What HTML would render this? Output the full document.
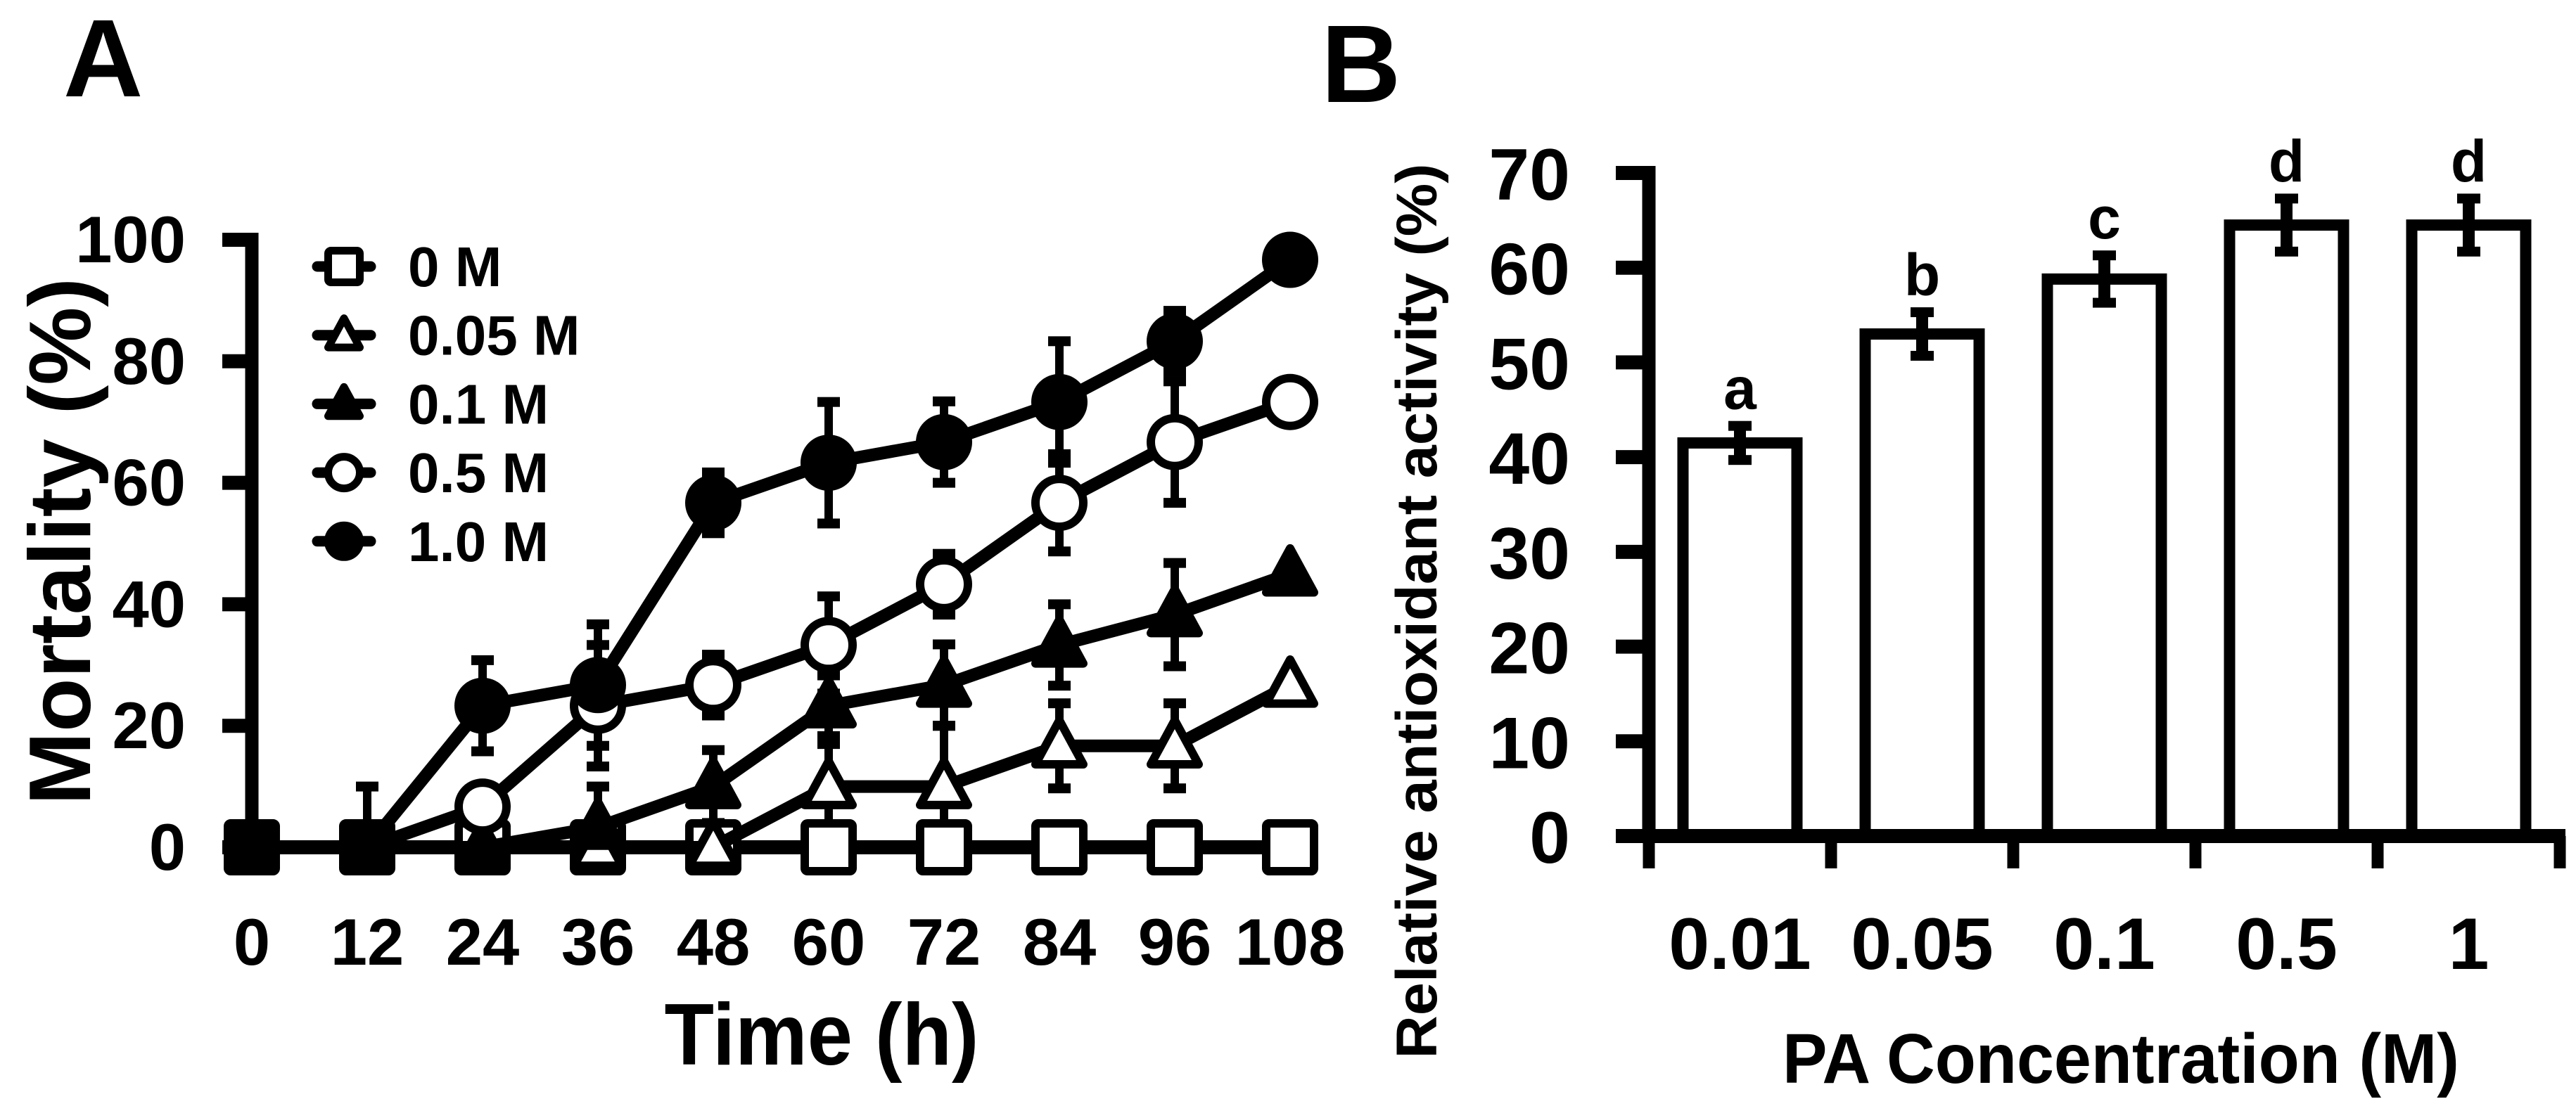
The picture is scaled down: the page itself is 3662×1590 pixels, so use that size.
<!DOCTYPE html>
<html>
<head>
<meta charset="utf-8">
<style>
html,body{margin:0;padding:0;background:#fff;}
svg{display:block;}
text{font-family:"Liberation Sans", Arial, sans-serif;fill:#000;font-weight:bold;}
</style>
</head>
<body>
<svg id="fig" width="3662" height="1590" viewBox="0 0 3662 1590" xmlns="http://www.w3.org/2000/svg">
  <rect width="3662" height="1590" fill="#fff"/>
  <text x="90" y="137" font-size="157">A</text>
  <text x="1878" y="145" font-size="157">B</text>
  <g id="panelA"></g>
  <g id="panelB"></g>
</svg>
<script>
// ---------- Panel A data ----------
const timeCategories = [0, 12, 24, 36, 48, 60, 72, 84, 96, 108];
const yTicksA = [0, 20, 40, 60, 80, 100];
const seriesNames = ["0 M", "0.05 M", "0.1 M", "0.5 M", "1.0 M"];
const seriesShapes = ["square", "triangle", "triangle", "circle", "circle"];
const seriesFilled = [false, false, true, false, true];
const values0M   = [0, 0, 0, 0, 0, 0, 0, 0, 0, 0];
const err0M      = [0, 0, 0, 0, 0, 0, 0, 0, 0, 0];
const values005M = [0, 0, 0, 0, 0, 10, 10, 16.7, 16.7, 26.7];
const err005M    = [0, 0, 0, 0, 0, 7, 10, 7, 7, 0];
const values01M  = [0, 0, 0, 3.3, 10, 23.3, 26.7, 33.3, 38.3, 45];
const err01M     = [0, 0, 0, 6.7, 6, 5, 6.7, 6.7, 8.5, 0];
const values05M  = [0, 0, 6.7, 23.3, 26.7, 33.3, 43.3, 56.7, 66.7, 73.3];
const err05M     = [0, 0, 3.3, 10, 5, 8, 5, 8, 10, 0];
const values1M   = [0, 0, 23.3, 26.7, 56.7, 63.3, 66.7, 73.3, 83.3, 96.7];
const err1M      = [0, 10, 7.5, 10, 5, 10, 6.7, 10, 5, 0];

// ---------- Panel B data ----------
const concCategories = ["0.01", "0.05", "0.1", "0.5", "1"];
const activityValues = [41.5, 53, 58.8, 64.5, 64.5];
const activityErrors = [1.8, 2.3, 2.5, 2.8, 2.8];
const sigLetters = ["a", "b", "c", "d", "d"];
const yTicksB = [0, 10, 20, 30, 40, 50, 60, 70];

const NS = "http://www.w3.org/2000/svg";
function mk(parent, tag, attrs, txt) {
  const e = document.createElementNS(NS, tag);
  for (const k in attrs) e.setAttribute(k, attrs[k]);
  if (txt !== undefined) e.textContent = txt;
  parent.appendChild(e);
  return e;
}

// ================= Panel A =================
const gA = document.getElementById("panelA");
const ax0 = 358, axStep = 164, ay0 = 1205, ayTop = 341;
function xA(i) { return ax0 + i * axStep; }
function yA(v) { return ay0 - (v / 100) * (ay0 - ayTop); }

function drawMarker(parent, shape, filled, cx, cy, size, sw) {
  const fill = filled ? "#000" : "#fff";
  let el;
  if (shape === "square") {
    const s = size - sw;
    el = mk(parent, "rect", {x: cx - s / 2, y: cy - s / 2, width: s, height: s, rx: 4, fill: fill, stroke: "#000", "stroke-width": sw});
  } else if (shape === "circle") {
    el = mk(parent, "circle", {cx: cx, cy: cy, r: (size - sw) / 2, fill: fill, stroke: "#000", "stroke-width": sw});
  } else {
    const w = size - sw, h = (size - sw) * 0.92;
    const pts = [[cx, cy - h * 0.58], [cx - w / 2, cy + h * 0.42], [cx + w / 2, cy + h * 0.42]].map(p => p.join(",")).join(" ");
    el = mk(parent, "polygon", {points: pts, fill: fill, stroke: "#000", "stroke-width": sw, "stroke-linejoin": "round"});
  }
  return el;
}

const yAxisA = mk(gA, "line", {x1: ax0, y1: ayTop - 10, x2: ax0, y2: ay0, stroke: "#000", "stroke-width": 19});


const xAxisA = mk(gA, "line", {x1: ax0, y1: ay0, x2: xA(9), y2: ay0, stroke: "#000", "stroke-width": 20});



yTicksA.forEach(function (t) {
  const tk = mk(gA, "line", {x1: 316, y1: yA(t), x2: ax0, y2: yA(t), stroke: "#000", "stroke-width": 20});
  
  
  const lb = mk(gA, "text", {x: 264, y: yA(t) + 32, "font-size": 94, "text-anchor": "end"}, String(t));
  
  
});
timeCategories.forEach(function (t, i) {
  const lb = mk(gA, "text", {x: xA(i), y: 1372, "font-size": 94, "text-anchor": "middle"}, String(t));
  
  
});
const xTitleA = mk(gA, "text", {x: 1168, y: 1514, "font-size": 124, "text-anchor": "middle", textLength: 447, lengthAdjust: "spacingAndGlyphs"}, "Time (h)");


const yTitleA = mk(gA, "text", {x: 0, y: 0, "font-size": 124, "text-anchor": "middle", transform: "translate(128,770) rotate(-90)", textLength: 750, lengthAdjust: "spacingAndGlyphs"}, "Mortality (%)");



const allValues = [values0M, values005M, values01M, values05M, values1M];
const allErrors = [err0M, err005M, err01M, err05M, err1M];

allValues.forEach(function (vals, s) {
  const errs = allErrors[s];
  vals.forEach(function (v, i) {
    const e = errs[i];
    if (e <= 0) return;
    const x = xA(i);
    const eg = mk(gA, "g", {});
    
    
    mk(eg, "line", {x1: x, y1: yA(v + e), x2: x, y2: yA(Math.max(0, v - e)), stroke: "#000", "stroke-width": 12});
    mk(eg, "rect", {x: x - 16, y: yA(v + e) - 7, width: 32, height: 14, fill: "#000"});
    if (v - e > 0) mk(eg, "rect", {x: x - 16, y: yA(v - e) - 7, width: 32, height: 14, fill: "#000"});
  });
});
allValues.forEach(function (vals, s) {
  const sg = mk(gA, "g", {});
  
  
  const pts = vals.map(function (v, i) { return xA(i) + "," + yA(v); }).join(" ");
  const pl = mk(sg, "polyline", {points: pts, fill: "none", stroke: "#000", "stroke-width": 18, "stroke-linejoin": "round"});
  
  
  vals.forEach(function (v, i) {
    const m = drawMarker(sg, seriesShapes[s], seriesFilled[s], xA(i), yA(v), 80, 12);
    
    
  });
});
const legend = mk(gA, "g", {});


seriesNames.forEach(function (n, s) {
  const cy = 379 + s * 97.7;
  const eg = mk(legend, "g", {});
  
  
  mk(eg, "line", {x1: 451, y1: cy, x2: 527, y2: cy, stroke: "#000", "stroke-width": 15, "stroke-linecap": "round"});
  drawMarker(eg, seriesShapes[s], seriesFilled[s], 489, cy, 56, 11);
  mk(eg, "text", {x: 580, y: cy + 28, "font-size": 80}, n);
});

// ================= Panel B =================
const gB = document.getElementById("panelB");
const bx0 = 2344, bStep = 259, by0 = 1189, byTop = 246;
function yB(v) { return by0 - (v / 70) * (by0 - byTop); }
function xB(i) { return bx0 + bStep * (i + 0.5); }

yTicksB.forEach(function (t) {
  const tk = mk(gB, "line", {x1: 2297, y1: yB(t), x2: bx0, y2: yB(t), stroke: "#000", "stroke-width": 20});
  
  
  const lb = mk(gB, "text", {x: 2232, y: yB(t) + 38, "font-size": 104, "text-anchor": "end"}, String(t));
  
  
});
for (let k = 0; k <= concCategories.length; k++) {
  const tk = mk(gB, "line", {x1: bx0 + k * bStep, y1: by0, x2: bx0 + k * bStep, y2: 1235, stroke: "#000", "stroke-width": 17});
  
  
}
concCategories.forEach(function (c, i) {
  const v = activityValues[i], e = activityErrors[i];
  const cx = xB(i);
  const bg = mk(gB, "g", {});
  
  
  const bw = 178 - 16;
  const bar = mk(bg, "rect", {x: cx - bw / 2, y: yB(v), width: bw, height: by0 - yB(v), fill: "#fff", stroke: "#000", "stroke-width": 16});
  
  
  const eb = mk(bg, "g", {});
  
  
  mk(eb, "line", {x1: cx, y1: yB(v + e), x2: cx, y2: yB(v - e), stroke: "#000", "stroke-width": 17});
  mk(eb, "rect", {x: cx - 16.5, y: yB(v + e) - 7, width: 33, height: 14, fill: "#000"});
  mk(eb, "rect", {x: cx - 16.5, y: yB(v - e) - 7, width: 33, height: 14, fill: "#000"});
  const lt = mk(bg, "text", {x: cx, y: yB(v + e) - 24, "font-size": 84, "text-anchor": "middle"}, sigLetters[i]);
  
  
  const xl = mk(gB, "text", {x: cx, y: 1378, "font-size": 104, "text-anchor": "middle"}, c);
  
  
});
const yAxisB = mk(gB, "line", {x1: bx0, y1: byTop - 10, x2: bx0, y2: by0, stroke: "#000", "stroke-width": 19});


const xAxisB = mk(gB, "line", {x1: 2297, y1: by0, x2: bx0 + 5 * bStep + 8, y2: by0, stroke: "#000", "stroke-width": 20});



const xTitleB = mk(gB, "text", {x: 3015, y: 1540, "font-size": 100, "text-anchor": "middle", textLength: 962, lengthAdjust: "spacingAndGlyphs"}, "PA Concentration (M)");


const yTitleB = mk(gB, "text", {x: 0, y: 0, "font-size": 82, "text-anchor": "middle", transform: "translate(2042,869) rotate(-90)", textLength: 1273, lengthAdjust: "spacingAndGlyphs"}, "Relative antioxidant activity (%)");


</script>
</body>
</html>
